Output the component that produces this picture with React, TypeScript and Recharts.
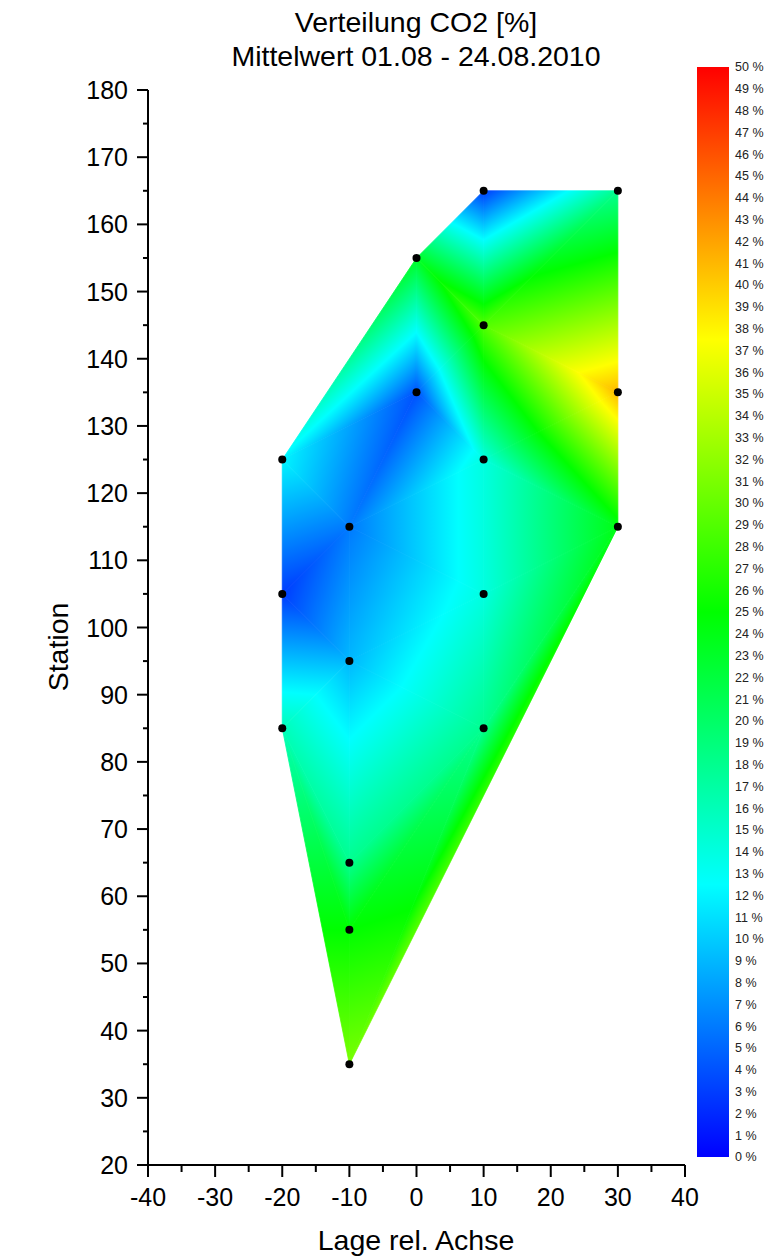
import React from "react";
import {
  ScatterChart,
  Scatter,
  XAxis,
  YAxis,
  ReferenceArea,
  BarChart,
  Bar,
} from "recharts";

// measuring points: lateral position, station, mean CO2 in %
const stationX = [-10, -10, -10, -20, 10, -10, -20, 10, -10, 30, -20, 10, 0, 30, 10, 0, 10, 30];
const stationY = [35, 55, 65, 85, 85, 95, 105, 105, 115, 115, 125, 125, 135, 135, 145, 155, 165, 165];
const co2 = [31, 25, 18, 16, 18, 9, 3, 14, 6, 24, 12, 14, 4, 41, 29, 23, 3, 18];

// triangulation of the points (indices into the arrays above)
const triangles = [
  [0, 1, 3], [0, 4, 1], [0, 9, 4], [1, 2, 3], [1, 4, 2],
  [2, 3, 5], [2, 4, 5], [3, 5, 6], [5, 4, 7], [5, 7, 8],
  [5, 6, 8], [6, 8, 10], [4, 9, 7], [7, 9, 11], [8, 7, 11],
  [8, 11, 12], [8, 12, 10], [10, 12, 15], [12, 11, 14], [12, 14, 15],
  [11, 9, 13], [11, 13, 14], [14, 13, 17], [14, 17, 16], [15, 14, 16],
];

const xTicks = [-40, -35, -30, -25, -20, -15, -10, -5, 0, 5, 10, 15, 20, 25, 30, 35, 40];
const yTicks = [
  20, 25, 30, 35, 40, 45, 50, 55, 60, 65, 70, 75, 80, 85, 90, 95, 100,
  105, 110, 115, 120, 125, 130, 135, 140, 145, 150, 155, 160, 165, 170, 175, 180,
];
const legendTicks = [
  0, 1, 2, 3, 4, 5, 6, 7, 8, 9, 10, 11, 12, 13, 14, 15, 16, 17, 18, 19, 20,
  21, 22, 23, 24, 25, 26, 27, 28, 29, 30, 31, 32, 33, 34, 35, 36, 37, 38, 39, 40,
  41, 42, 43, 44, 45, 46, 47, 48, 49, 50,
];

// rainbow colour map 0..50 %
const mapStops = [0, 12.5, 25, 37.5, 50];
const mapColors = ["#0000ff", "#00ffff", "#00ff00", "#ffff00", "#ff0000"];

const titleLines = ["Verteilung CO2 [%]", "Mittelwert 01.08 - 24.08.2010"];
const xTitle = "Lage rel. Achse";
const yTitle = "Station";

const X_DOMAIN = [-40, 40];
const Y_DOMAIN = [20, 180];
const FONT = "Arial, 'Liberation Sans', sans-serif";

const points = stationX.map((x, i) => ({ x, y: stationY[i], co2: co2[i] }));
const legendBar = [{ name: "co2", value: 50 }];

function hexToRgb(h: string) {
  return [1, 3, 5].map((k) => parseInt(h.slice(k, k + 2), 16));
}

function colorAt(v: number) {
  const last = mapStops.length - 1;
  const c = Math.max(mapStops[0], Math.min(mapStops[last], v));
  let i = 0;
  while (i < last - 1 && c > mapStops[i + 1]) i++;
  const t = (c - mapStops[i]) / (mapStops[i + 1] - mapStops[i]);
  const a = hexToRgb(mapColors[i]);
  const b = hexToRgb(mapColors[i + 1]);
  const m = a.map((ch, k) => Math.round(ch + (b[k] - ch) * t));
  return `rgb(${m[0]},${m[1]},${m[2]})`;
}

// gets the pixel box of the whole domain from ReferenceArea and fills each
// triangle with a gradient along the direction of its linear value field
function MeshShape(props: any) {
  const { x, y, width, height } = props;
  const sx = (v: number) => x + ((v - X_DOMAIN[0]) / (X_DOMAIN[1] - X_DOMAIN[0])) * width;
  const sy = (v: number) => y + ((Y_DOMAIN[1] - v) / (Y_DOMAIN[1] - Y_DOMAIN[0])) * height;

  return (
    <g>
      {triangles.map((tri, i) => {
        const p = tri.map((k) => [sx(stationX[k]), sy(stationY[k])]);
        const v = tri.map((k) => co2[k]);
        const pts = p.map((q) => q.join(",")).join(" ");
        const vmin = Math.min(...v);
        const vmax = Math.max(...v);
        if (vmax - vmin < 1e-6) {
          const c = colorAt(vmin);
          return <polygon key={i} points={pts} fill={c} stroke={c} strokeWidth={0.8} />;
        }
        const e1 = [p[1][0] - p[0][0], p[1][1] - p[0][1]];
        const e2 = [p[2][0] - p[0][0], p[2][1] - p[0][1]];
        const d1 = v[1] - v[0];
        const d2 = v[2] - v[0];
        const det = e1[0] * e2[1] - e1[1] * e2[0];
        const gx = (d1 * e2[1] - d2 * e1[1]) / det;
        const gy = (e1[0] * d2 - e2[0] * d1) / det;
        const len2 = gx * gx + gy * gy;
        const a = p[v.indexOf(vmin)];
        const k = (vmax - vmin) / len2;
        const stops = [{ o: 0, c: colorAt(vmin) }];
        mapStops.forEach((s) => {
          if (s > vmin && s < vmax) stops.push({ o: (s - vmin) / (vmax - vmin), c: colorAt(s) });
        });
        stops.push({ o: 1, c: colorAt(vmax) });
        const id = `tri-grad-${i}`;
        return (
          <g key={i}>
            <defs>
              <linearGradient
                id={id}
                gradientUnits="userSpaceOnUse"
                x1={a[0]}
                y1={a[1]}
                x2={a[0] + gx * k}
                y2={a[1] + gy * k}
              >
                {stops.map((s, j) => (
                  <stop key={j} offset={s.o} stopColor={s.c} />
                ))}
              </linearGradient>
            </defs>
            <polygon
              points={pts}
              fill={`url(#${id})`}
              stroke={`url(#${id})`}
              strokeWidth={0.8}
              strokeLinejoin="round"
            />
          </g>
        );
      })}
    </g>
  );
}

function XTick(props: any) {
  const { x, y, payload } = props;
  const major = payload.value % 10 === 0;
  return (
    <g>
      <line x1={x} y1={y} x2={x} y2={y + (major ? 12 : 7)} stroke="#000" strokeWidth={2} />
      {major && (
        <text x={x} y={y + 41} textAnchor="middle" fontSize={25} fill="#000" fontFamily={FONT}>
          {payload.value}
        </text>
      )}
    </g>
  );
}

function YTick(props: any) {
  const { x, y, payload } = props;
  const major = payload.value % 10 === 0;
  return (
    <g>
      <line x1={x} y1={y} x2={x - (major ? 11 : 5)} y2={y} stroke="#000" strokeWidth={2} />
      {major && (
        <text x={x - 20} y={y} dy="0.36em" textAnchor="end" fontSize={25} fill="#000" fontFamily={FONT}>
          {payload.value}
        </text>
      )}
    </g>
  );
}

function StationDot(props: any) {
  return <circle cx={props.cx} cy={props.cy} r={4} fill="#000" />;
}

export default function App() {
  return (
    <div style={{ position: "relative", width: 779, height: 1256, background: "#fff", fontFamily: FONT }}>
      <style>{"body{margin:0}"}</style>
      <div style={{ position: "absolute", left: 0, top: 0 }}>
        <ScatterChart width={779} height={1256} margin={{ top: 90, right: 94, bottom: 0, left: 0 }}>
          <XAxis
            type="number"
            dataKey="x"
            domain={X_DOMAIN}
            ticks={xTicks}
            interval={0}
            height={91}
            tickSize={0}
            tickMargin={0}
            tickLine={false}
            axisLine={{ stroke: "#000", strokeWidth: 2 }}
            tick={(p: any) => <XTick {...p} />}
            allowDataOverflow
          />
          <YAxis
            type="number"
            dataKey="y"
            domain={Y_DOMAIN}
            ticks={yTicks}
            interval={0}
            width={148}
            tickSize={0}
            tickMargin={0}
            tickLine={false}
            axisLine={{ stroke: "#000", strokeWidth: 2 }}
            tick={(p: any) => <YTick {...p} />}
            allowDataOverflow
          />
          <ReferenceArea
            x1={X_DOMAIN[0]}
            x2={X_DOMAIN[1]}
            y1={Y_DOMAIN[0]}
            y2={Y_DOMAIN[1]}
            shape={(p: any) => <MeshShape {...p} />}
          />
          <Scatter data={points} isAnimationActive={false} shape={(p: any) => <StationDot {...p} />} />
        </ScatterChart>
      </div>

      <div style={{ position: "absolute", left: 697, top: 57 }}>
        <BarChart
          width={82}
          height={1110}
          data={legendBar}
          margin={{ top: 10, right: 0, bottom: 10, left: 0 }}
          barCategoryGap={0}
        >
          <defs>
            <linearGradient id="co2-scale" x1="0" y1="1" x2="0" y2="0">
              {mapStops.map((s, i) => (
                <stop key={i} offset={s / 50} stopColor={mapColors[i]} />
              ))}
            </linearGradient>
          </defs>
          <XAxis dataKey="name" hide />
          <YAxis
            orientation="right"
            domain={[0, 50]}
            ticks={legendTicks}
            interval={0}
            width={50}
            tickSize={0}
            tickMargin={6}
            axisLine={false}
            tickLine={false}
            tick={{ fontSize: 12.5, fill: "#222", fontFamily: FONT }}
            tickFormatter={(v: number) => `${v} %`}
          />
          <Bar dataKey="value" fill="url(#co2-scale)" isAnimationActive={false} />
        </BarChart>
      </div>

      <svg
        width={779}
        height={1256}
        style={{ position: "absolute", left: 0, top: 0, pointerEvents: "none" }}
        fontFamily={FONT}
      >
        <text x={416} y={32} textAnchor="middle" fontSize={28.5} fill="#000">
          {titleLines[0]}
        </text>
        <text x={416} y={66} textAnchor="middle" fontSize={28.5} fill="#000">
          {titleLines[1]}
        </text>
        <text x={416} y={1250} textAnchor="middle" fontSize={28.5} fill="#000">
          {xTitle}
        </text>
        <text transform="translate(68,647) rotate(-90)" textAnchor="middle" fontSize={28.5} fill="#000">
          {yTitle}
        </text>
      </svg>
    </div>
  );
}
